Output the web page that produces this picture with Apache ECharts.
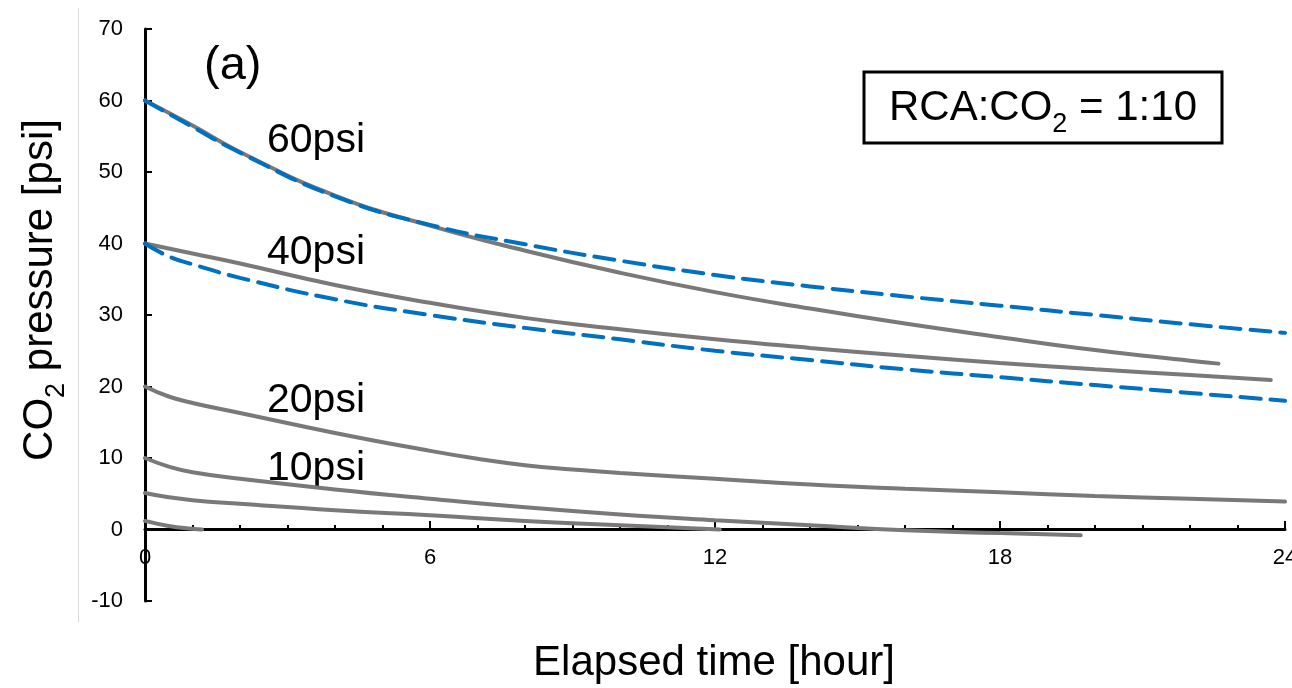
<!DOCTYPE html>
<html>
<head>
<meta charset="utf-8">
<script src="https://cdn.jsdelivr.net/npm/echarts@6/dist/echarts.min.js"></script>
<style>
  html, body { margin: 0; padding: 0; background: #fff; }
  #chart { width: 1292px; height: 688px; }
</style>
</head>
<body>
<div id="chart"></div>
<script>
// elapsed time [hour] and CO2 pressure [psi]
const tGray60 = [0, 1, 2, 4, 6, 8, 10, 12, 14, 16, 18, 20, 22, 22.6];
const vGray60 = [60, 56.5, 52.8, 46.7, 42.5, 39.0, 35.9, 33.2, 30.9, 28.8, 26.9, 25.1, 23.6, 23.2];

const tBlue60 = [0, 1, 2, 4, 6, 8, 10, 12, 14, 16, 18, 20, 22, 24];
const vBlue60 = [60, 56.3, 52.7, 46.6, 42.6, 39.9, 37.6, 35.6, 34.0, 32.6, 31.3, 30.0, 28.7, 27.5];

const tGray40 = [0, 1, 2, 4, 6, 8, 10, 12, 14, 16, 18, 20, 22, 23.7];
const vGray40 = [40, 38.6, 37.2, 34.2, 31.7, 29.6, 28.0, 26.6, 25.4, 24.3, 23.3, 22.4, 21.6, 20.9];

const tBlue40 = [0, 0.5, 1, 2, 4, 6, 8, 10, 12, 14, 16, 18, 20, 22, 24];
const vBlue40 = [40, 38.2, 37.1, 35.2, 32.2, 30.0, 28.2, 26.6, 25.0, 23.7, 22.4, 21.3, 20.2, 19.1, 18.0];

const tGray20 = [0, 0.5, 1, 2, 4, 6, 7, 8, 9, 10, 12, 14, 16, 18, 20, 22, 24];
const vGray20 = [20, 18.6, 17.7, 16.3, 13.5, 11.0, 9.9, 9.0, 8.4, 7.9, 7.1, 6.3, 5.7, 5.2, 4.7, 4.3, 3.9];

const tGray10 = [0, 0.5, 1, 2, 4, 6, 8, 10, 12, 14, 16, 18, 19.7];
const vGray10 = [10, 8.8, 8.0, 7.1, 5.6, 4.3, 3.1, 2.1, 1.3, 0.6, -0.1, -0.5, -0.8];

const tGray5 = [0, 0.5, 1, 2, 4, 6, 8, 10, 12.1];
const vGray5 = [5.1, 4.5, 4.1, 3.6, 2.7, 2.0, 1.2, 0.6, 0.0];

const tGray1 = [0, 0.5, 1, 1.2];
const vGray1 = [1.2, 0.5, 0.1, 0];

const FONT = '"Liberation Sans", Arial, sans-serif';
const GRAY = '#7a7878';
const BLUE = '#0070c0';

function pairs(ts, vs) {
    return ts.map((t, i) => [t, vs[i]]);
}

function grayLine(ts, vs) {
    return {
        type: 'line',
        data: pairs(ts, vs),
        smooth: 0.5,
        showSymbol: false,
        lineStyle: { color: GRAY, width: 4, cap: 'round' },
        z: 2
    };
}

function blueLine(ts, vs) {
    return {
        type: 'line',
        data: pairs(ts, vs),
        smooth: 0.5,
        showSymbol: false,
        lineStyle: { color: BLUE, width: 4, type: [20, 10], cap: 'round' },
        z: 3
    };
}

const chart = echarts.init(document.getElementById('chart'));

const option = {
    animation: false,
    backgroundColor: '#fff',
    grid: { left: 145, right: 7, top: 29, bottom: 87, outerBoundsMode: 'none' },
    xAxis: {
        type: 'value',
        min: 0,
        max: 24,
        interval: 6,
        offset: -72,
        axisLine: { onZero: false, lineStyle: { color: '#000', width: 3 } },
        axisTick: { inside: true, length: 8, lineStyle: { color: '#000', width: 2 } },
        minorTick: { show: true, splitNumber: 6, length: 4, lineStyle: { color: '#000', width: 2 } },
        splitLine: { show: false },
        axisLabel: { color: '#000', fontSize: 22, fontFamily: FONT, margin: 18 }
    },
    yAxis: {
        type: 'value',
        min: -10,
        max: 70,
        interval: 10,
        axisLine: { show: true, lineStyle: { color: '#000', width: 3 } },
        axisTick: { show: true, inside: true, length: 7, lineStyle: { color: '#000', width: 2 } },
        splitLine: { show: false },
        axisLabel: { color: '#000', fontSize: 22, fontFamily: FONT, margin: 22 }
    },
    series: [
        grayLine(tGray60, vGray60),
        grayLine(tGray40, vGray40),
        grayLine(tGray20, vGray20),
        grayLine(tGray10, vGray10),
        grayLine(tGray5, vGray5),
        grayLine(tGray1, vGray1),
        blueLine(tBlue60, vBlue60),
        blueLine(tBlue40, vBlue40)
    ],
    graphic: [
        {
            type: 'line',
            shape: { x1: 78.5, y1: 8, x2: 78.5, y2: 622 },
            style: { stroke: '#d9d9d9', lineWidth: 1 }
        },
        {
            type: 'text', x: 204, y: 66,
            style: { text: '(a)', font: '47px ' + FONT, fill: '#000', verticalAlign: 'middle' }
        },
        {
            type: 'text', x: 267, y: 120,
            style: { text: '60psi', font: '41px ' + FONT, fill: '#000' }
        },
        {
            type: 'text', x: 267, y: 232,
            style: { text: '40psi', font: '41px ' + FONT, fill: '#000' }
        },
        {
            type: 'text', x: 267, y: 380,
            style: { text: '20psi', font: '41px ' + FONT, fill: '#000' }
        },
        {
            type: 'text', x: 267, y: 448,
            style: { text: '10psi', font: '41px ' + FONT, fill: '#000' }
        },
        {
            type: 'rect',
            shape: { x: 864, y: 72, width: 358, height: 71 },
            style: { fill: '#fff', stroke: '#000', lineWidth: 3 },
            z: 10
        },
        {
            type: 'text', x: 1043, y: 108, z: 11,
            style: {
                text: '{a|RCA:CO}{s|2}{a| = 1:10}',
                align: 'center',
                verticalAlign: 'middle',
                rich: {
                    a: { fontSize: 42, fontFamily: FONT, color: '#000', lineHeight: 60 },
                    s: { fontSize: 27, fontFamily: FONT, color: '#000', verticalAlign: 'bottom' }
                }
            }
        },
        {
            type: 'text', x: 714, y: 663,
            style: {
                text: 'Elapsed time [hour]', font: '42px ' + FONT, fill: '#000',
                align: 'center', verticalAlign: 'middle'
            }
        },
        {
            type: 'text', x: 40, y: 290, rotation: Math.PI / 2,
            style: {
                text: '{a|CO}{s|2}{a| pressure [psi]}',
                align: 'center',
                verticalAlign: 'middle',
                rich: {
                    a: { fontSize: 42, fontFamily: FONT, color: '#000', lineHeight: 60 },
                    s: { fontSize: 27, fontFamily: FONT, color: '#000', verticalAlign: 'bottom' }
                }
            }
        }
    ]
};

chart.setOption(option);
</script>
</body>
</html>
